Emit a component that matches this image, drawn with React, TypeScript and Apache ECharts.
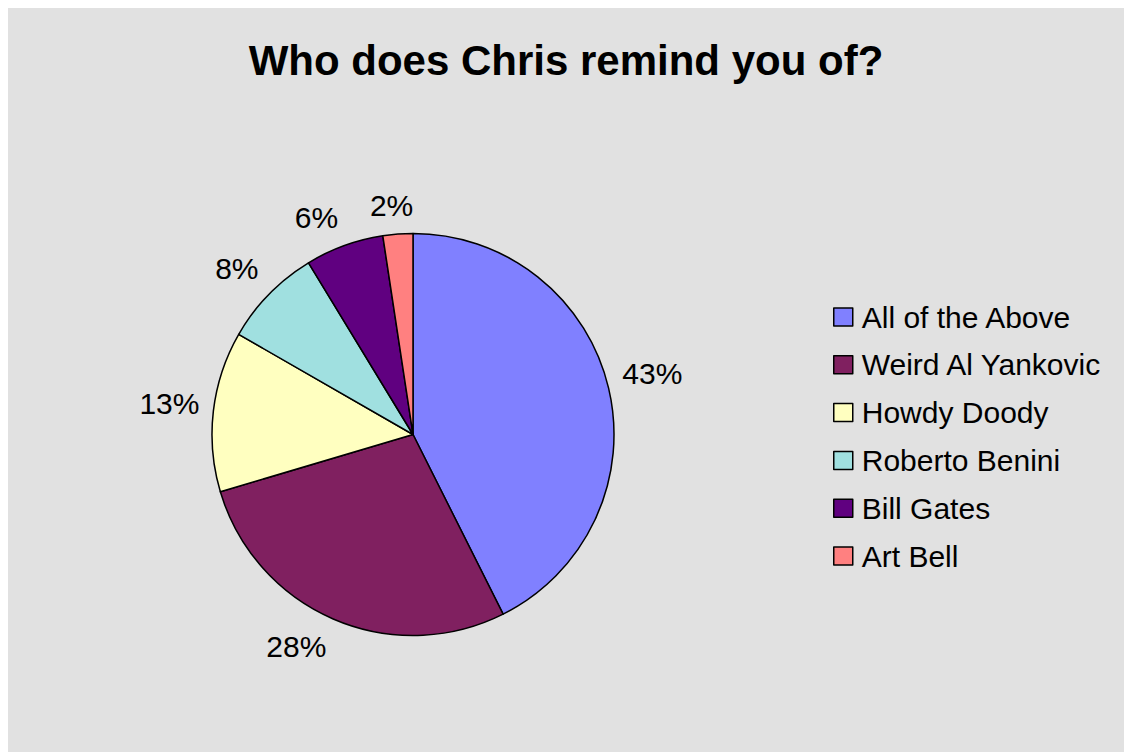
import React, { useEffect, useRef } from "react";
import * as echarts from "echarts";

const titleText = "Who does Chris remind you of?";
const categories = [
  "All of the Above",
  "Weird Al Yankovic",
  "Howdy Doody",
  "Roberto Benini",
  "Bill Gates",
  "Art Bell",
];
// shares (%); labels show rounded values
const shares = [42.6, 27.8, 12.9, 8.0, 6.3, 2.4];
const sliceColors = ["#8080ff", "#802060", "#ffffc0", "#a0e0e0", "#600080", "#ff8080"];

const FONT = "'Liberation Sans', Arial, Helvetica, sans-serif";
const CENTER = [405, 426.5];
const RADIUS = 201;
const GAP = 12;

const clampDir = (v: number) => Math.max(-1, Math.min(1, v * 3));

export default function App() {
  const ref = useRef<HTMLDivElement>(null);
  useEffect(() => {
    document.body.style.overflow = "hidden";
    const chart = echarts.init(ref.current as HTMLDivElement, null, { renderer: "svg" });
    chart.setOption({
      animation: false,
      backgroundColor: "#e1e1e1",
      title: {
        text: titleText,
        left: "center",
        top: 26,
        textStyle: { fontFamily: FONT, fontSize: 42, fontWeight: "bold", color: "#000", lineHeight: 42 },
      },
      legend: {
        orient: "vertical",
        left: 825,
        top: 294,
        padding: 0,
        icon: "rect",
        itemWidth: 19,
        itemHeight: 18,
        itemGap: 17.8,
        data: categories,
        itemStyle: { borderColor: "#000", borderWidth: 1.5 },
        textStyle: { fontFamily: FONT, fontSize: 30, color: "#000", lineHeight: 30, padding: [0, 0, 0, 4] },
      },
      series: [
        {
          type: "pie",
          center: CENTER,
          radius: RADIUS,
          startAngle: 90,
          clockwise: true,
          avoidLabelOverlap: false,
          itemStyle: { borderColor: "#000", borderWidth: 1.5 },
          label: {
            show: true,
            position: "outside",
            fontFamily: FONT,
            fontSize: 30,
            color: "#000",
            formatter: (p: any) => Math.round(p.percent) + "%",
          },
          labelLine: { show: true, length: 20, length2: 0, lineStyle: { opacity: 0, width: 0 } },
          labelLayout: (p: any) => {
            const pts = p.labelLinePoints;
            if (!pts || !pts[0]) return {};
            const dx = pts[0][0] - CENTER[0];
            const dy = pts[0][1] - CENTER[1];
            const len = Math.hypot(dx, dy) || 1;
            const ux = dx / len;
            const uy = dy / len;
            const w = p.labelRect.width;
            const h = p.labelRect.height;
            const px = CENTER[0] + ux * (RADIUS + GAP);
            const py = CENTER[1] + uy * (RADIUS + GAP);
            return {
              x: px + clampDir(ux) * (w / 2 + 2),
              y: py + clampDir(uy) * (h / 2 + 2),
              align: "center",
              verticalAlign: "middle",
            };
          },
          emphasis: { disabled: true },
          data: categories.map((name, i) => ({
            name,
            value: shares[i],
            itemStyle: { color: sliceColors[i] },
          })),
        },
      ],
    });
    return () => chart.dispose();
  }, []);
  return (
    <div
      ref={ref}
      style={{ position: "fixed", left: 8, top: 8, width: 1116, height: 744 }}
    />
  );
}
